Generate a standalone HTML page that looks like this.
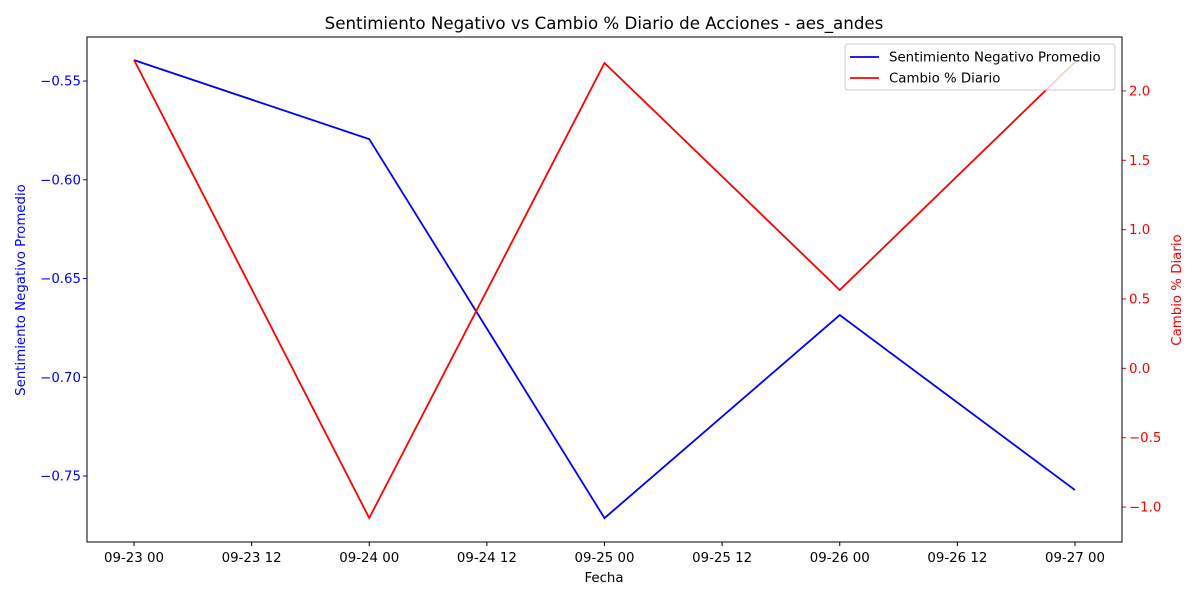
<!DOCTYPE html>
<html><head><meta charset="utf-8"><style>
body{margin:0;background:#fff;font-family:"Liberation Sans","DejaVu Sans",sans-serif}
svg text{font-family:"DejaVu Sans","Liberation Sans",sans-serif}
</style></head><body>
<svg id="c" width="1200" height="600" xmlns="http://www.w3.org/2000/svg"></svg>
<script>
const dates=["09-23 00","09-24 00","09-25 00","09-26 00","09-27 00"];
const sentiment=[-0.5394,-0.5794,-0.7713,-0.6685,-0.7571];
const change=[2.224,-1.079,2.202,0.565,2.209];
const xTickLabels=["09-23 00","09-23 12","09-24 00","09-24 12","09-25 00","09-25 12","09-26 00","09-26 12","09-27 00"];
const leftTicks=[-0.55,-0.60,-0.65,-0.70,-0.75];
const rightTicks=[2.0,1.5,1.0,0.5,0.0,-0.5,-1.0];
const leftDomain=[-0.7834,-0.5277];
const rightDomain=[-1.252,2.389];

const L=87,R=1122,T=37,B=542;
const x0=134,x1=1075;
const FS=13.33;
const xd=i=>x0+(x1-x0)*i/(dates.length-1);
const xh=h=>x0+(x1-x0)*h/((xTickLabels.length-1));
const yl=v=>B-(v-leftDomain[0])/(leftDomain[1]-leftDomain[0])*(B-T);
const yr=v=>B-(v-rightDomain[0])/(rightDomain[1]-rightDomain[0])*(B-T);
const svg=document.getElementById('c');
const NS="http://www.w3.org/2000/svg";
function mk(t,a,txt){const e=document.createElementNS(NS,t);for(const k in a)e.setAttribute(k,a[k]);if(txt!=null)e.textContent=txt;svg.appendChild(e);return e;}
const fmt=v=>(v<0?"\u2212":"")+Math.abs(v).toFixed(2);
const fmt1=v=>(v<0?"\u2212":"")+Math.abs(v).toFixed(1);

let e=mk('text',{x:604,y:29,'text-anchor':'middle','font-size':16.67},"Sentimiento Negativo vs Cambio % Diario de Acciones - aes_andes");



xTickLabels.forEach((t,i)=>{const x=xh(i);
 let l=mk('line',{x1:x,x2:x,y1:B,y2:B+4,stroke:'#000'});
 
 
 let tx=mk('text',{x:x,y:B+20,'text-anchor':'middle','font-size':FS},t);
 
 
});
e=mk('text',{x:604,y:582,'text-anchor':'middle','font-size':FS},"Fecha");



leftTicks.forEach(v=>{const y=yl(v);
 let l=mk('line',{x1:L-4,x2:L,y1:y,y2:y,stroke:'blue'});
 
 
 let tx=mk('text',{x:L-6,y:y+4.5,'text-anchor':'end','font-size':FS,fill:'blue'},fmt(v));
 
 
});
e=mk('text',{x:25,y:290,'text-anchor':'middle','font-size':FS,fill:'blue',transform:'rotate(-90 25 290)'},"Sentimiento Negativo Promedio");



rightTicks.forEach(v=>{const y=yr(v);
 let l=mk('line',{x1:R,x2:R+4,y1:y,y2:y,stroke:'red'});
 
 
 let tx=mk('text',{x:R+7,y:y+4.5,'font-size':FS,fill:'red'},fmt1(v));
 
 
});
e=mk('text',{x:1181,y:290,'text-anchor':'middle','font-size':FS,fill:'red',transform:'rotate(-90 1181 290)'},"Cambio % Diario");



let p1=mk('polyline',{points:sentiment.map((v,i)=>xd(i)+','+yl(v)).join(' '),fill:'none',stroke:'blue','stroke-width':1.8});


let p2=mk('polyline',{points:change.map((v,i)=>xd(i)+','+yr(v)).join(' '),fill:'none',stroke:'red','stroke-width':1.8});



e=mk('rect',{x:L,y:T,width:R-L,height:B-T,fill:'none',stroke:'#000','stroke-width':1});



let lg=mk('rect',{x:845,y:44,width:270,height:46,fill:'#fff','fill-opacity':0.8,stroke:'#ccc',rx:3});


[["Sentimiento Negativo Promedio","blue",57],["Cambio % Diario","red",78]].forEach(([t,c,y])=>{
 let l=mk('line',{x1:850,x2:879,y1:y,y2:y,stroke:c,'stroke-width':1.8});
 
 
 let tx=mk('text',{x:889,y:y+4.5,'font-size':FS},t);
 
 
});
</script>
</body></html>
